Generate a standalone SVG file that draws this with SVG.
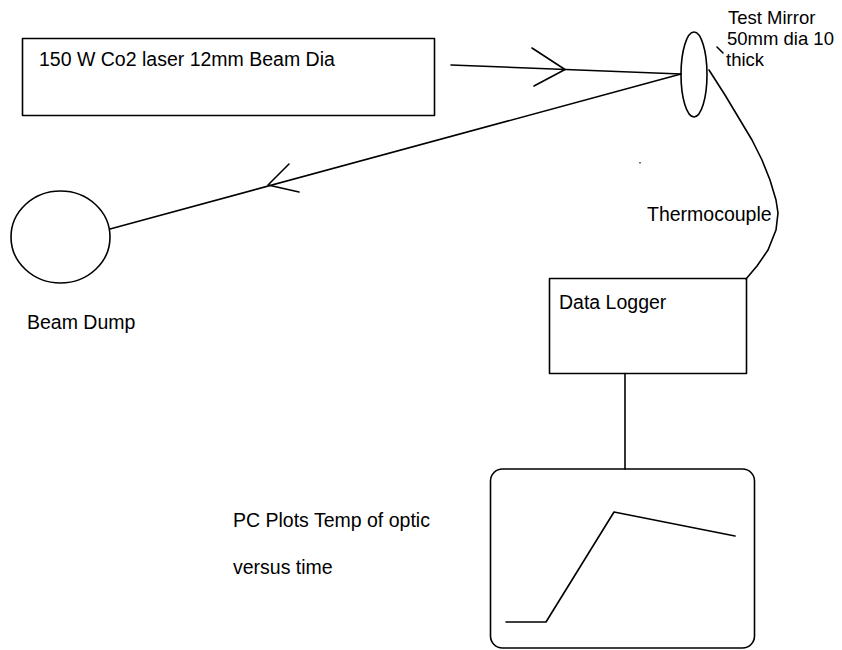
<svg xmlns="http://www.w3.org/2000/svg" width="842" height="650" viewBox="0 0 842 650">
<style>
.ln{fill:none;stroke:#000;stroke-width:1.6;stroke-linecap:round;stroke-linejoin:round}
.t{font-family:"Liberation Sans",Arial,sans-serif;font-size:19.5px;fill:#000}
.m{font-size:18.5px}
</style>
<rect width="842" height="650" fill="#fff"/>
<g id="laser">
<rect class="ln" x="22.5" y="38.5" width="412" height="77"/>
<text class="t" x="39" y="66">150 W Co2 laser 12mm Beam Dia</text>
</g>
<g id="mirror">
<ellipse class="ln" cx="694" cy="74.5" rx="13" ry="42.5"/>
<text class="t m" x="728" y="24">Test Mirror</text>
<text class="t m" x="727" y="45">50mm dia 10</text>
<text class="t m" x="726" y="66">thick</text>
<line class="ln" x1="717" y1="47" x2="723" y2="53"/>
</g>
<g id="beam-dump">
<ellipse class="ln" cx="60.5" cy="237" rx="49.5" ry="46"/>
<text class="t" x="27" y="329">Beam Dump</text>
</g>
<g id="data-logger">
<rect class="ln" x="549.5" y="278.5" width="197" height="95"/>
<text class="t" x="559" y="309">Data Logger</text>
</g>
<g id="pc">
<rect class="ln" x="490.5" y="469" width="264" height="179" rx="12" ry="12"/>
<polyline class="ln" points="506,622 546,622 614,512 735,536"/>
<text class="t" x="233" y="527">PC Plots Temp of optic</text>
<text class="t" x="233" y="574">versus time</text>
</g>
<g id="connectors">
<line class="ln" x1="451" y1="65" x2="681" y2="74"/>
<polyline class="ln" points="532,48 565,69.5 534,86"/>
<line class="ln" x1="681" y1="74" x2="110" y2="229"/>
<polyline class="ln" points="289,164 268,185 299,192"/>
<polyline class="ln" points="709,70 725,95 740,120 752,140 762,160 770,180 776,200 778,213 776,230 768,250 757,266 746,279"/>
<line class="ln" x1="625" y1="373.5" x2="625" y2="469"/>
</g>
<text class="t" x="647" y="221">Thermocouple</text>
<rect x="639" y="162" width="2" height="1.5" fill="#666"/>
</svg>
